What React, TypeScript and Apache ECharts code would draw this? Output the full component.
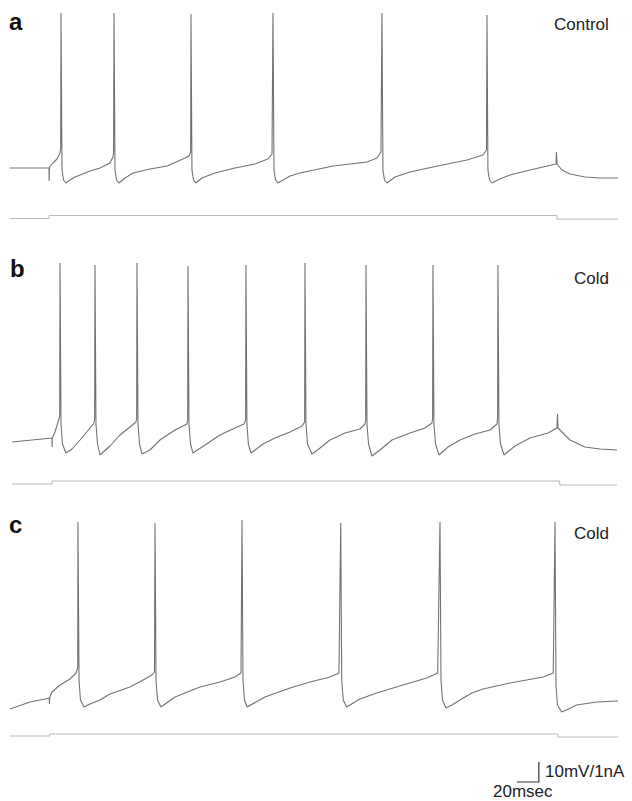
import React, { useEffect, useRef } from "react";
import * as echarts from "echarts";

// ---- data (time in ms, membrane potential in mV, injected current in nA) ----
const T_MAX = 553;
const V_MIN = -90;
const V_MAX = 20;
const I_MIN = -0.5;
const I_MAX = 0.5;

const panelLetters = ["a", "b", "c"];
const conditionLabels = ["Control", "Cold", "Cold"];
const scaleBarVLabel = "10mV/1nA";
const scaleBarTLabel = "20msec";
const SCALE_MS = 20;
const SCALE_MV = 10;
const SCALE_END_MS = 481;
const SCALE_BASE_MV = 5;

const controlVoltage: number[][] = [
  [0, -64], [35.5, -64], [35.6, -70.5], [35.9, -63.5], [39.1, -61.5], [42.7, -59.5], [45.5, -56.5], [46.1, -54],
  [46.4, 13.5], [47.3, -65], [48.7, -70], [50.9, -71.5], [54.6, -70], [59.1, -68.5], [72.8, -65.5], [81.9, -64],
  [90.9, -61.5], [93.7, -58.5], [94.2, -56],
  [94.6, 13.5], [95.5, -65], [96.9, -70], [99.1, -71.5], [104.6, -69], [111.9, -66.5], [127.3, -64.5], [142.8, -63],
  [157.3, -59.5], [162.8, -58], [164.3, -56],
  [164.6, 13], [165.5, -65], [166.9, -70], [169.1, -71.5], [174.6, -69], [186.4, -66.5], [204.6, -64], [222.8, -62],
  [234.6, -59.5], [238.3, -57],
  [239.2, 13.5], [240.1, -65], [241.5, -70], [243.7, -71.5], [254.7, -68], [263.8, -66.5], [293.8, -63], [324.7, -61],
  [333.8, -59], [337.4, -56],
  [338.3, 13.5], [339.2, -65], [340.6, -70], [342.9, -71.5], [350.2, -68.5], [363.8, -66], [384.7, -63.5], [415.6, -60],
  [430.2, -57.5], [433.4, -55],
  [433.8, 12.5], [434.7, -65], [436.1, -70], [438.3, -71.5], [445.6, -69.5], [454.7, -67.5], [472.9, -65], [496.6, -62],
  [497, -56], [497.5, -62], [502, -65], [509.3, -67], [522.9, -68.5], [536.6, -69], [553, -69],
];
const controlCurrent: number[][] = [
  [0, 0], [35.5, 0], [35.6, 0.15], [497.4, 0.15], [497.5, -0.03], [553, -0.03],
];

const coldVoltageB: number[][] = [
  [1.8, -71], [20, -70], [38.2, -69], [38.3, -73.5], [38.5, -69], [40.9, -66], [43.7, -61], [45.2, -58],
  [45.5, 18.5], [46.4, -62], [47.7, -72], [50.9, -76.5], [56.4, -74.5], [63.7, -70], [72.8, -64], [76.4, -61.5], [77, -59],
  [77.3, 17.5], [78.2, -62], [79.6, -72], [81.9, -77.5], [90.9, -73], [100, -67.5], [109.1, -63.5], [114.6, -61], [115.2, -59],
  [115.5, 18.5], [116.4, -62], [117.8, -72], [120.1, -77], [127.3, -75], [136.4, -70], [150.1, -65], [161, -62], [161.6, -60],
  [161.9, 17], [162.8, -62], [164.2, -72], [166.4, -76.5], [177.4, -72.5], [191, -67.5], [204.6, -64], [212.8, -62], [214.3, -60],
  [214.6, 17.5], [215.5, -62], [216.8, -72], [219.2, -76.5], [230.1, -72], [241, -69], [254.7, -66], [265.6, -63], [268, -61],
  [268.3, 18.5], [269.2, -62], [270.6, -72], [274.7, -77], [282, -74], [291, -70], [304.7, -66.5], [318.3, -64.5], [322.9, -62], [323.5, -60],
  [323.8, 17.5], [324.7, -62], [326.1, -72], [329.2, -78], [336.5, -75], [347.4, -70], [363.8, -66.5], [377.4, -64], [383.8, -61.5], [384.4, -59],
  [384.7, 17.5], [385.6, -62], [387, -72], [390.2, -77.5], [398.4, -73.5], [409.3, -70], [422.9, -67], [436.6, -65], [442.9, -62], [443.5, -59],
  [443.8, 17.5], [444.7, -62], [446.1, -72], [449.3, -77.5], [459.3, -73], [472.9, -69], [489.3, -66.5], [497.5, -64],
  [498, -57], [498.4, -64], [502, -66], [509.3, -70], [522.9, -73.5], [536.6, -74.5], [552, -75],
];
const coldCurrentB: number[][] = [
  [1.8, 0], [38.2, 0], [38.3, 0.15], [500, 0.15], [500.1, -0.05], [552, -0.05],
];

const coldVoltageC: number[][] = [
  [0, -74.5], [18.2, -71], [31.8, -69.5], [35.7, -69], [35.9, -72], [36.2, -68.5], [38.2, -66], [45.5, -62.5],
  [54.6, -59.5], [60, -56.5], [61.6, -54],
  [61.8, 19], [62.8, -60], [64.1, -70], [67.3, -73.5], [72.8, -72], [81.9, -70], [90.9, -67], [109.1, -63.5],
  [122.8, -59.5], [129.1, -57.5], [131.4, -56],
  [131.9, 18.5], [132.8, -60], [134.2, -70], [137.3, -73.5], [150.1, -68.5], [172.8, -63.5], [191, -61], [204.6, -58.5],
  [210.1, -56.5],
  [211, 20], [211.9, -60], [213.3, -70], [215.6, -73.5], [231.9, -68.5], [254.7, -64], [272.9, -61], [291, -58.5],
  [299.2, -56.5],
  [300.8, 18.5], [301.7, -60], [303.1, -70], [306.2, -73.5], [318.3, -69.5], [333.5, -66.5], [357.4, -62.5], [379, -59],
  [389, -56.5],
  [391.1, 19], [392, -60], [393.4, -70], [396.5, -74], [402, -72.5], [409.3, -70], [420, -66.5], [430.2, -64.5],
  [454.7, -61.5], [485, -58.5], [494.1, -56.5],
  [495.7, 19], [496.6, -62.5], [497.9, -72.5], [501.8, -76], [508, -74.5], [515.4, -72.5], [533.6, -71], [553, -70.5],
];
const coldCurrentC: number[][] = [
  [0, 0], [35.9, 0], [36, 0.1], [498.3, 0.1], [498.4, -0.05], [553, -0.05],
];

const voltageTraces = [controlVoltage, coldVoltageB, coldVoltageC];
const currentTraces = [controlCurrent, coldCurrentB, coldCurrentC];

// ---- layout ----
const GRID_LEFT = 10;
const GRID_WIDTH = 608;
const V_GRID_TOPS = [0, 260, 520];
const V_GRID_HEIGHT = 220;
const I_GRID_TOPS = [208.5, 474, 726];
const I_GRID_HEIGHT = 20;
const SCALE_GRID_TOP = 752;
const SCALE_GRID_HEIGHT = 40;

const FONT = 'Arial, "Liberation Sans", sans-serif';
const V_COLOR = "#727272";
const I_COLOR = "#b8b8b8";

export default function App() {
  const ref = useRef<HTMLDivElement>(null);

  useEffect(() => {
    if (!ref.current) return;
    const chart = echarts.init(ref.current, undefined, { renderer: "svg" });

    const grids: any[] = [];
    const xAxes: any[] = [];
    const yAxes: any[] = [];
    const series: any[] = [];

    const addGrid = (top: number, height: number, yMin: number, yMax: number) => {
      const idx = grids.length;
      grids.push({ left: GRID_LEFT, top, width: GRID_WIDTH, height, show: false });
      xAxes.push({ type: "value", gridIndex: idx, min: 0, max: T_MAX, show: false });
      yAxes.push({ type: "value", gridIndex: idx, min: yMin, max: yMax, show: false });
      return idx;
    };

    for (let p = 0; p < 3; p++) {
      const vi = addGrid(V_GRID_TOPS[p], V_GRID_HEIGHT, V_MIN, V_MAX);
      series.push({
        type: "line",
        xAxisIndex: vi,
        yAxisIndex: vi,
        data: voltageTraces[p],
        showSymbol: false,
        symbol: "none",
        silent: true,
        lineStyle: { color: V_COLOR, width: 1.1 },
      });
      const ii = addGrid(I_GRID_TOPS[p], I_GRID_HEIGHT, I_MIN, I_MAX);
      series.push({
        type: "line",
        xAxisIndex: ii,
        yAxisIndex: ii,
        data: currentTraces[p],
        showSymbol: false,
        symbol: "none",
        silent: true,
        lineStyle: { color: I_COLOR, width: 1 },
      });
    }

    const si = addGrid(SCALE_GRID_TOP, SCALE_GRID_HEIGHT, 0, 20);
    series.push({
      type: "line",
      xAxisIndex: si,
      yAxisIndex: si,
      data: [
        [SCALE_END_MS - SCALE_MS, SCALE_BASE_MV],
        [SCALE_END_MS, SCALE_BASE_MV],
        [SCALE_END_MS, SCALE_BASE_MV + SCALE_MV],
      ],
      showSymbol: false,
      symbol: "none",
      silent: true,
      lineStyle: { color: "#333", width: 1.2 },
    });

    const letterPos = [
      [9, 21],
      [10, 268],
      [9, 524],
    ];
    const condPos = [
      [554, 24],
      [574, 278],
      [574, 533],
    ];
    const graphic: any[] = [];
    for (let p = 0; p < 3; p++) {
      graphic.push({
        type: "text",
        x: letterPos[p][0],
        y: letterPos[p][1],
        style: {
          text: panelLetters[p],
          font: `bold 24px ${FONT}`,
          fill: "#111",
          verticalAlign: "middle",
          align: "left",
        },
      });
      graphic.push({
        type: "text",
        x: condPos[p][0],
        y: condPos[p][1],
        style: {
          text: conditionLabels[p],
          font: `17px ${FONT}`,
          fill: "#222",
          verticalAlign: "middle",
          align: "left",
        },
      });
    }
    graphic.push({
      type: "text",
      x: 545,
      y: 771,
      style: { text: scaleBarVLabel, font: `17px ${FONT}`, fill: "#222", verticalAlign: "middle", align: "left" },
    });
    graphic.push({
      type: "text",
      x: 493,
      y: 791,
      style: { text: scaleBarTLabel, font: `17px ${FONT}`, fill: "#222", verticalAlign: "middle", align: "left" },
    });

    chart.setOption({
      animation: false,
      backgroundColor: "#ffffff",
      grid: grids,
      xAxis: xAxes,
      yAxis: yAxes,
      series,
      graphic,
    });

    return () => {
      chart.dispose();
    };
  }, []);

  return (
    <div
      ref={ref}
      style={{ position: "absolute", left: 0, top: 0, width: 632, height: 801 }}
    />
  );
}
